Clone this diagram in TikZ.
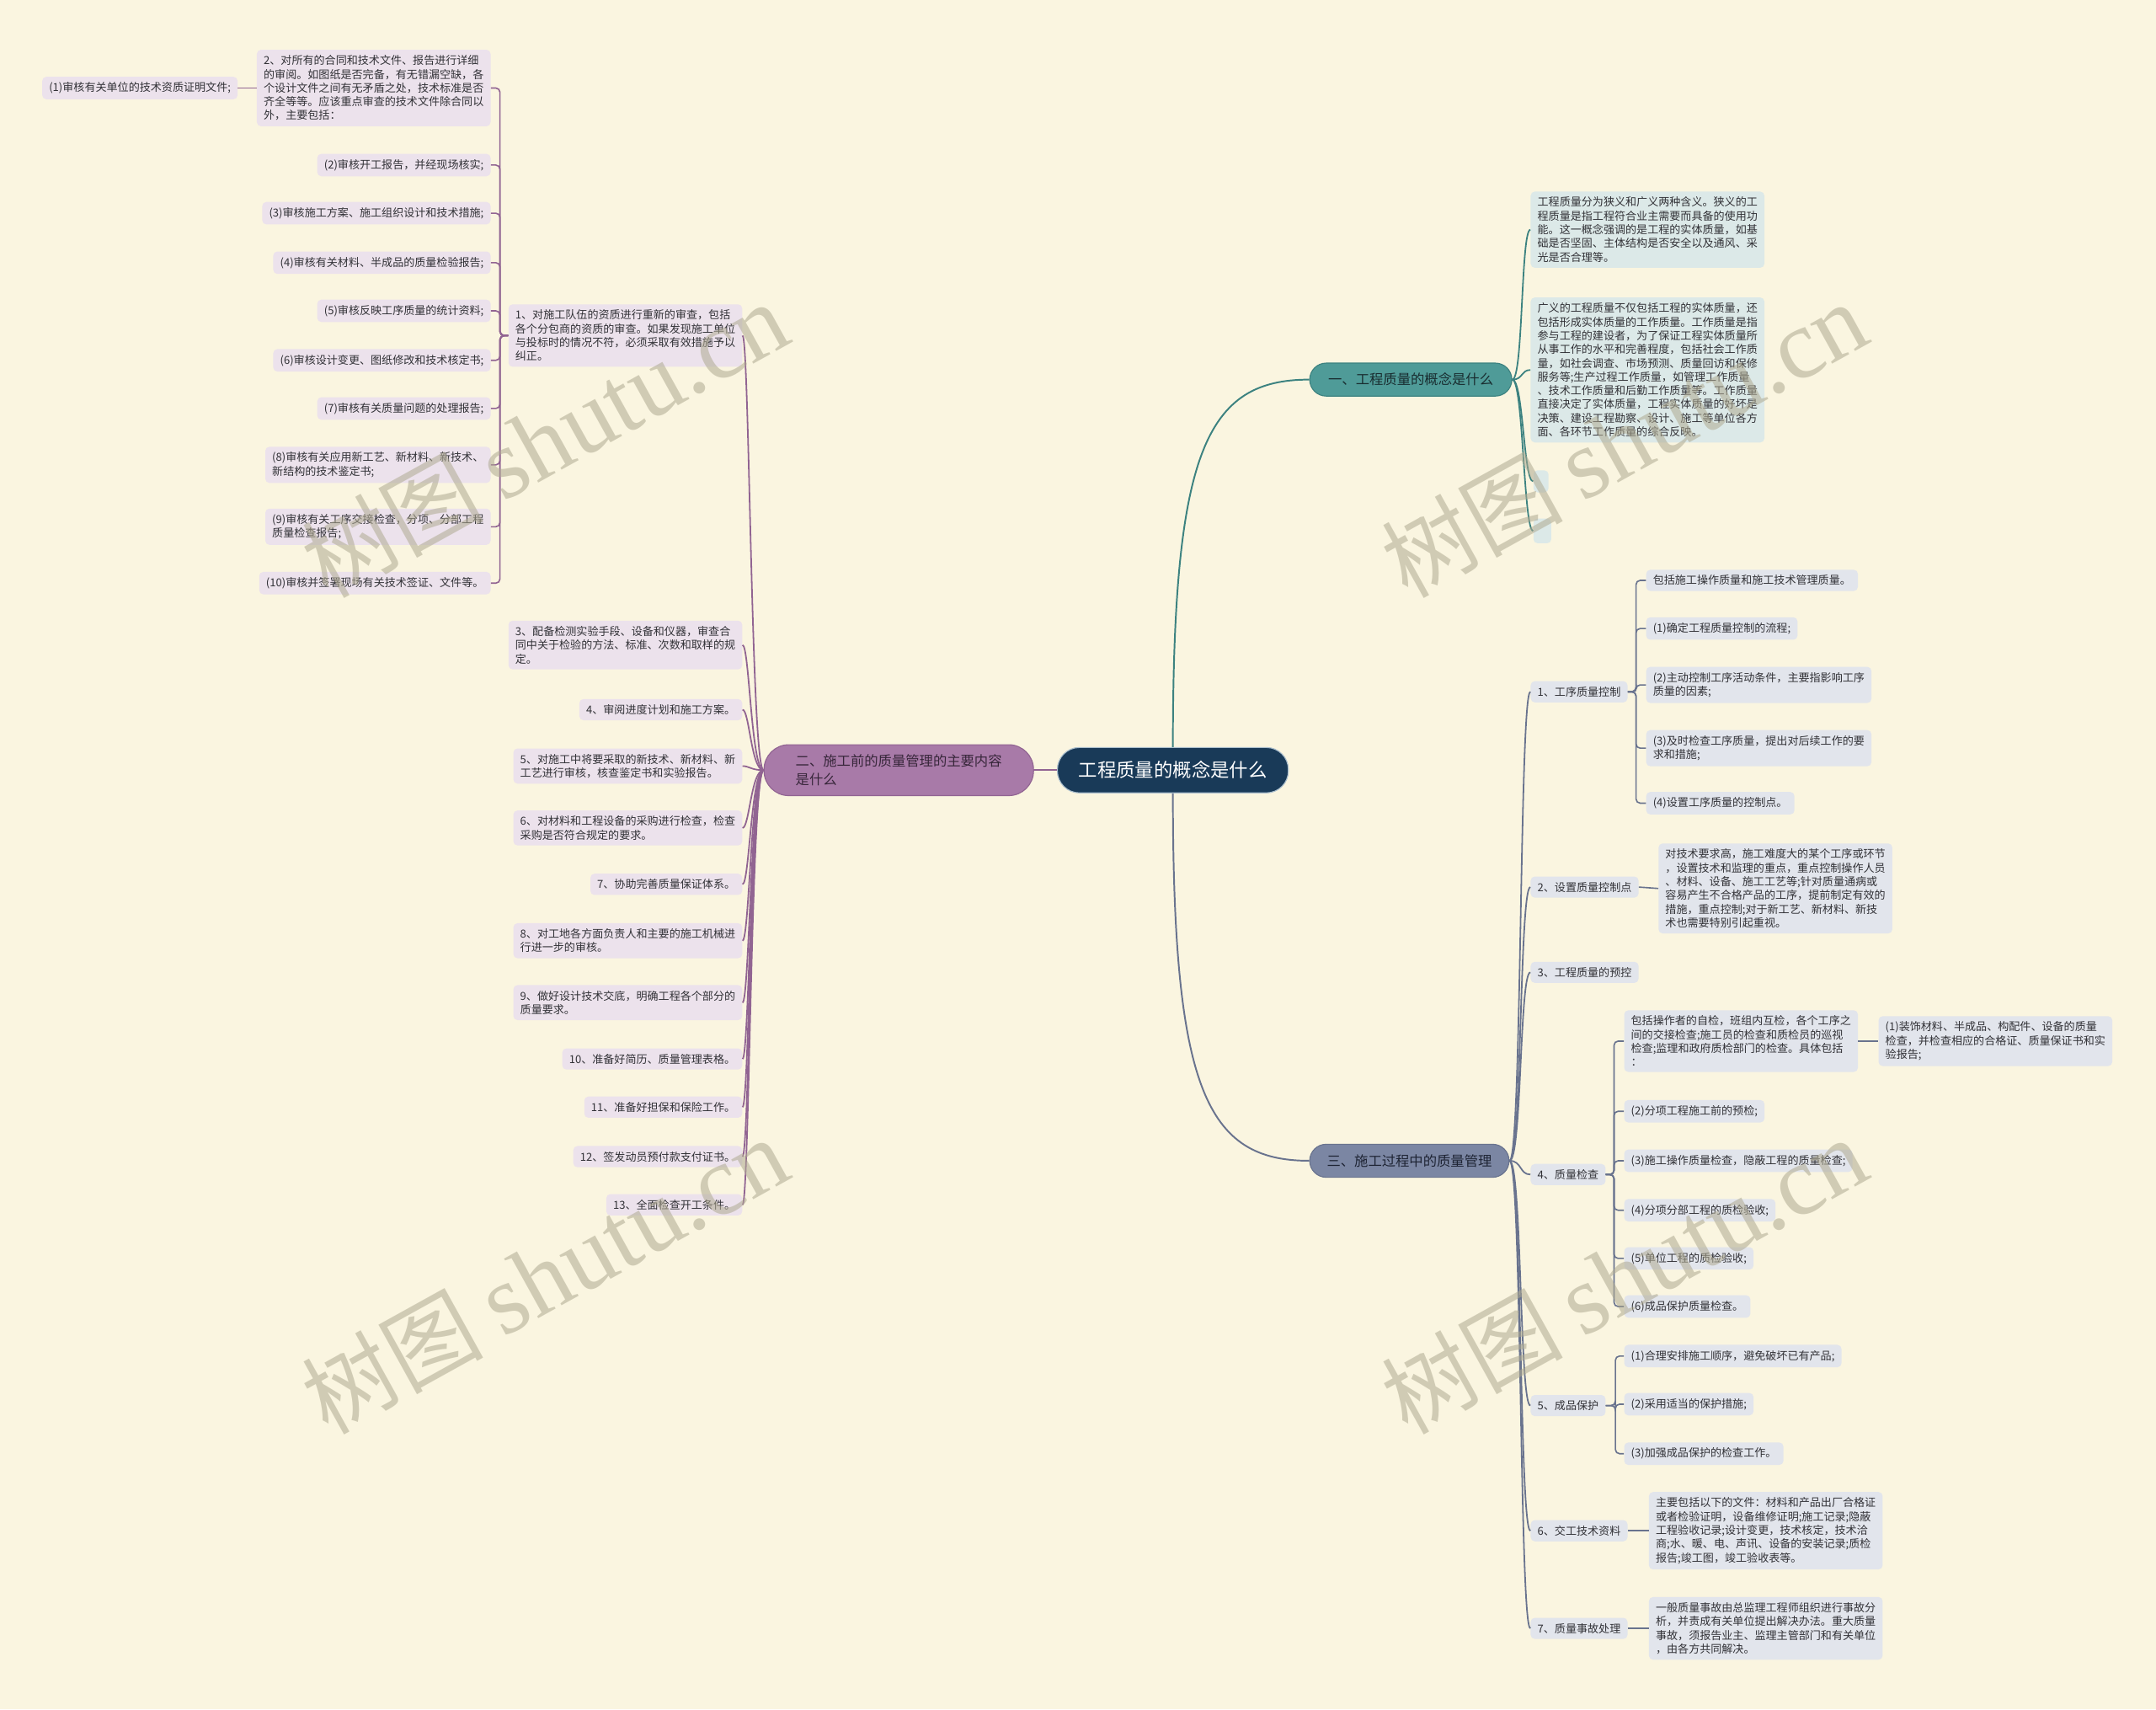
\documentclass[tikz,border=0pt]{standalone}
\usepackage{fontspec}
\setmainfont{Noto Sans CJK SC}
\newfontfamily\wmserif{Liberation Serif}
\newfontfamily\wmcjk{Noto Sans CJK SC}
\definecolor{cBG}{RGB}{250,245,224}
\definecolor{cRoot}{RGB}{25,58,88}
\definecolor{cB1}{RGB}{79,155,152}
\definecolor{cB1d}{RGB}{60,130,128}
\definecolor{cB2}{RGB}{168,122,168}
\definecolor{cB2d}{RGB}{145,100,146}
\definecolor{cB3}{RGB}{123,134,163}
\definecolor{cB3d}{RGB}{105,115,142}
\definecolor{cLP}{RGB}{236,226,236}
\definecolor{cLT}{RGB}{220,233,232}
\definecolor{cLS}{RGB}{226,229,236}
\definecolor{cTxt}{RGB}{50,50,55}
\definecolor{cWM}{RGB}{175,170,145}
\begin{document}
\begin{tikzpicture}[x=1pt,y=-1pt,
  leafbase/.style={rounded corners=3, inner xsep=5, inner ysep=4, align=left,
    font=\fontsize{8}{10}\selectfont, text=cTxt},
  leafP/.style={leafbase, fill=cLP},
  leafT/.style={leafbase, fill=cLT},
  leafS/.style={leafbase, fill=cLS},
  lnP/.style={draw=cB2d, line width=1.1},
  lnT/.style={draw=cB1d, line width=1.1},
  lnS/.style={draw=cB3d, line width=1.1},
  bkP/.style={lnP, line width=1, rounded corners=3},
  bkS/.style={lnS, line width=1, rounded corners=3},
  wmark/.style={rotate=29, text=cWM, opacity=0.55, inner sep=0}
]
\fill[cBG] (0,0) rectangle (1568,1243);
\useasboundingbox (0,0) rectangle (1568,1243);

% root and main branches
\node[fill=cRoot, draw={rgb,255:red,170;green,190;blue,205}, line width=0.7, rounded corners=16,
  minimum width=168, minimum height=33, inner sep=0, text=white,
  font=\fontsize{13.7}{16}\selectfont] (R) at (853,560) {工程质量的概念是什么};
\node[fill=cB1, draw=cB1d, line width=0.7, rounded corners=12, minimum width=147, minimum height=24,
  inner sep=0, text={rgb,255:red,25;green,45;blue,48}, font=\fontsize{10}{12}\selectfont]
  (B1) at (1026,276) {一、工程质量的概念是什么};
\node[fill=cB2, draw=cB2d, line width=0.7, rounded corners=18, minimum width=196, minimum height=37,
  inner sep=0, align=left, text={rgb,255:red,55;green,38;blue,58}, font=\fontsize{10}{14}\selectfont,
  anchor=east] (B2) at (752,560) {二、施工前的质量管理的主要内容\\是什么};
\node[fill=cB3, draw=cB3d, line width=0.7, rounded corners=12, minimum width=145, minimum height=24,
  inner sep=0, text={rgb,255:red,30;green,36;blue,52}, font=\fontsize{10}{12}\selectfont]
  (B3) at (1025,844) {三、施工过程中的质量管理};

% branch 2 : left side
\node[leafP, anchor=east] (L1) at (540,244) {1、对施工队伍的资质进行重新的审查，包括\\各个分包商的资质的审查。如果发现施工单位\\与投标时的情况不符，必须采取有效措施予以\\纠正。};
\node[leafP, anchor=east] (A2) at (357,64) {2、对所有的合同和技术文件、报告进行详细\\的审阅。如图纸是否完备，有无错漏空缺，各\\个设计文件之间有无矛盾之处，技术标准是否\\齐全等等。应该重点审查的技术文件除合同以\\外，主要包括：};
\node[leafP, anchor=east] (A1) at (173,64) {(1)审核有关单位的技术资质证明文件;};
\node[leafP, anchor=east] (A3) at (357,120) {(2)审核开工报告，并经现场核实;};
\node[leafP, anchor=east] (A4) at (357,155) {(3)审核施工方案、施工组织设计和技术措施;};
\node[leafP, anchor=east] (A5) at (357,191) {(4)审核有关材料、半成品的质量检验报告;};
\node[leafP, anchor=east] (A6) at (357,226) {(5)审核反映工序质量的统计资料;};
\node[leafP, anchor=east] (A7) at (357,262) {(6)审核设计变更、图纸修改和技术核定书;};
\node[leafP, anchor=east] (A8) at (357,297) {(7)审核有关质量问题的处理报告;};
\node[leafP, anchor=east] (A9) at (357,338) {(8)审核有关应用新工艺、新材料、新技术、\\新结构的技术鉴定书;};
\node[leafP, anchor=east] (A10) at (357,383) {(9)审核有关工序交接检查，分项、分部工程\\质量检查报告;};
\node[leafP, anchor=east] (A11) at (357,424) {(10)审核并签署现场有关技术签证、文件等。};
\node[leafP, anchor=east] (L3) at (540,469) {3、配备检测实验手段、设备和仪器，审查合\\同中关于检验的方法、标准、次数和取样的规\\定。};
\node[leafP, anchor=east] (L4) at (540,516) {4、审阅进度计划和施工方案。};
\node[leafP, anchor=east] (L5) at (540,557) {5、对施工中将要采取的新技术、新材料、新\\工艺进行审核，核查鉴定书和实验报告。};
\node[leafP, anchor=east] (L6) at (540,602) {6、对材料和工程设备的采购进行检查，检查\\采购是否符合规定的要求。};
\node[leafP, anchor=east] (L7) at (540,643) {7、协助完善质量保证体系。};
\node[leafP, anchor=east] (L8) at (540,684) {8、对工地各方面负责人和主要的施工机械进\\行进一步的审核。};
\node[leafP, anchor=east] (L9) at (540,729) {9、做好设计技术交底，明确工程各个部分的\\质量要求。};
\node[leafP, anchor=east] (L10) at (540,770) {10、准备好简历、质量管理表格。};
\node[leafP, anchor=east] (L11) at (540,805) {11、准备好担保和保险工作。};
\node[leafP, anchor=east] (L12) at (540,841) {12、签发动员预付款支付证书。};
\node[leafP, anchor=east] (L13) at (540,876) {13、全面检查开工条件。};

% branch 1 : right top
\node[leafT, anchor=west] (C1) at (1113,167) {工程质量分为狭义和广义两种含义。狭义的工\\程质量是指工程符合业主需要而具备的使用功\\能。这一概念强调的是工程的实体质量，如基\\础是否坚固、主体结构是否安全以及通风、采\\光是否合理等。};
\node[leafT, anchor=west] (C2) at (1113,269) {广义的工程质量不仅包括工程的实体质量，还\\包括形成实体质量的工作质量。工作质量是指\\参与工程的建设者，为了保证工程实体质量所\\从事工作的水平和完善程度，包括社会工作质\\量，如社会调查、市场预测、质量回访和保修\\服务等;生产过程工作质量，如管理工作质量\\、技术工作质量和后勤工作质量等。工作质量\\直接决定了实体质量，工程实体质量的好坏是\\决策、建设工程勘察、设计、施工等单位各方\\面、各环节工作质量的综合反映。};
\node[fill=cLT, rounded corners=3, minimum width=11, minimum height=16, inner sep=0, anchor=west] (C3) at (1115,350) {};
\node[fill=cLT, rounded corners=3, minimum width=13, minimum height=18, inner sep=0, anchor=west] (C4) at (1115,386) {};

% branch 3 : right bottom
\node[leafS, anchor=west] (S1) at (1113,503) {1、工序质量控制};
\node[leafS, anchor=west] (S1a) at (1197,422) {包括施工操作质量和施工技术管理质量。};
\node[leafS, anchor=west] (S1b) at (1197,457) {(1)确定工程质量控制的流程;};
\node[leafS, anchor=west] (S1c) at (1197,498) {(2)主动控制工序活动条件，主要指影响工序\\质量的因素;};
\node[leafS, anchor=west] (S1d) at (1197,544) {(3)及时检查工序质量，提出对后续工作的要\\求和措施;};
\node[leafS, anchor=west] (S1e) at (1197,584) {(4)设置工序质量的控制点。};
\node[leafS, anchor=west] (S2) at (1113,645) {2、设置质量控制点};
\node[leafS, anchor=west] (S2a) at (1206,646) {对技术要求高，施工难度大的某个工序或环节\\，设置技术和监理的重点，重点控制操作人员\\、材料、设备、施工工艺等;针对质量通病或\\容易产生不合格产品的工序，提前制定有效的\\措施，重点控制;对于新工艺、新材料、新技\\术也需要特别引起重视。};
\node[leafS, anchor=west] (S3) at (1113,707) {3、工程质量的预控};
\node[leafS, anchor=west] (S4) at (1113,854) {4、质量检查};
\node[leafS, anchor=west] (S4a) at (1181,757) {包括操作者的自检，班组内互检，各个工序之\\间的交接检查;施工员的检查和质检员的巡视\\检查;监理和政府质检部门的检查。具体包括\\：};
\node[leafS, anchor=west] (S4aa) at (1366,757) {(1)装饰材料、半成品、构配件、设备的质量\\检查，并检查相应的合格证、质量保证书和实\\验报告;};
\node[leafS, anchor=west] (S4b) at (1181,808) {(2)分项工程施工前的预检;};
\node[leafS, anchor=west] (S4c) at (1181,844) {(3)施工操作质量检查，隐蔽工程的质量检查;};
\node[leafS, anchor=west] (S4d) at (1181,880) {(4)分项分部工程的质检验收;};
\node[leafS, anchor=west] (S4e) at (1181,915) {(5)单位工程的质检验收;};
\node[leafS, anchor=west] (S4f) at (1181,950) {(6)成品保护质量检查。};
\node[leafS, anchor=west] (S5) at (1113,1022) {5、成品保护};
\node[leafS, anchor=west] (S5a) at (1181,986) {(1)合理安排施工顺序，避免破坏已有产品;};
\node[leafS, anchor=west] (S5b) at (1181,1021) {(2)采用适当的保护措施;};
\node[leafS, anchor=west] (S5c) at (1181,1057) {(3)加强成品保护的检查工作。};
\node[leafS, anchor=west] (S6) at (1113,1113) {6、交工技术资料};
\node[leafS, anchor=west] (S6a) at (1199,1113) {主要包括以下的文件：材料和产品出厂合格证\\或者检验证明，设备维修证明;施工记录;隐蔽\\工程验收记录;设计变更，技术核定，技术洽\\商;水、暖、电、声讯、设备的安装记录;质检\\报告;竣工图，竣工验收表等。};
\node[leafS, anchor=west] (S7) at (1113,1184) {7、质量事故处理};
\node[leafS, anchor=west] (S7a) at (1199,1184) {一般质量事故由总监理工程师组织进行事故分\\析，并责成有关单位提出解决办法。重大质量\\事故，须报告业主、监理主管部门和有关单位\\，由各方共同解决。};

% connectors: root to branches
\draw[lnT, line width=1.2] (R.north) .. controls +(0,-215) and +(-75,0) .. (B1.west);
\draw[lnS, line width=1.2] (R.south) .. controls +(0,215) and +(-75,0) .. (B3.west);
\draw[lnP, line width=1.2] (R.west) -- (B2.east);

% branch 2 connectors
\foreach \n in {L1,L3,L4,L5,L6,L7,L8,L9,L10,L11,L12,L13}
  \draw[lnP] (B2.west) .. controls +(-9,0) and +(5,0) .. (\n.east);
\foreach \n in {A2,A3,A4,A5,A6,A7,A8,A9,A10,A11}
  \draw[bkP] (L1.west) -- ++(-6,0) |- (\n.east);
\draw[bkP] (A2.west) -- (A1.east);

% branch 1 connectors
\foreach \n in {C1,C2,C3,C4}
  \draw[lnT] (B1.east) .. controls +(8,0) and +(-7,0) .. (\n.west);

% branch 3 connectors
\foreach \n in {S1,S2,S3,S4,S5,S6,S7}
  \draw[lnS] (B3.east) .. controls +(9,0) and +(-8,0) .. (\n.west);
\foreach \n in {S1a,S1b,S1c,S1d,S1e}
  \draw[bkS] (S1.east) -- ++(6,0) |- (\n.west);
\foreach \n in {S4a,S4b,S4c,S4d,S4e,S4f}
  \draw[bkS] (S4.east) -- ++(6,0) |- (\n.west);
\foreach \n in {S5a,S5b,S5c}
  \draw[bkS] (S5.east) -- ++(7,0) |- (\n.west);
\draw[bkS] (S2.east) -- (S2a.west);
\draw[bkS] (S4a.east) -- (S4aa.west);
\draw[bkS] (S6.east) -- (S6a.west);
\draw[bkS] (S7.east) -- (S7a.west);

% watermarks
\foreach \p in {(396,320),(396,928),(1181,320),(1181,928)}
  \node[wmark] at \p {{\wmcjk\fontsize{66}{70}\selectfont 树图}\hspace{14pt}{\wmserif\fontsize{72}{74}\selectfont shutu.cn}};
\end{tikzpicture}
\end{document}
